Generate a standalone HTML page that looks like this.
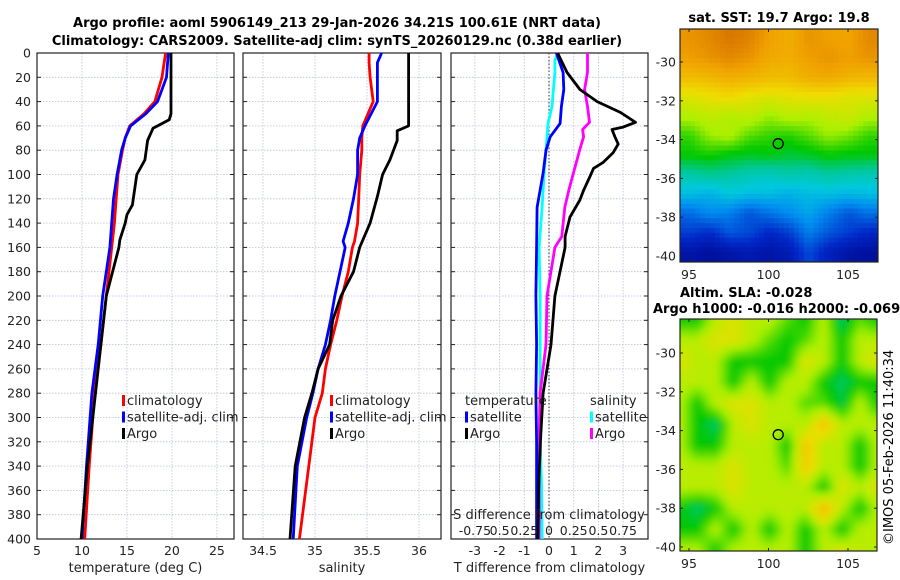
<!DOCTYPE html>
<html><head><meta charset="utf-8"><style>
html,body{margin:0;padding:0;background:#fff;}
svg{display:block;font-family:"DejaVu Sans","Liberation Sans",sans-serif;}
</style></head><body>
<svg id="fig" width="900" height="580" viewBox="0 0 900 580" xmlns="http://www.w3.org/2000/svg">
<defs>
<filter id="blur" x="0" y="0" width="1" height="1"><feGaussianBlur stdDeviation="3.5"/></filter>
<clipPath id="clipMap1"><rect x="680" y="29" width="198" height="233"/></clipPath>
<clipPath id="clipMap2"><rect x="680" y="319" width="197" height="232"/></clipPath>
</defs>
<text x="337" y="27" text-anchor="middle" font-size="13" font-weight="bold">Argo profile: aoml 5906149_213 29-Jan-2026 34.21S 100.61E (NRT data)</text>
<text x="337" y="45" text-anchor="middle" font-size="13" font-weight="bold">Climatology: CARS2009. Satellite-adj clim: synTS_20260129.nc (0.38d earlier)</text>
<g id="g1"></g><g id="g2"></g><g id="g3"></g><g id="m1"></g><g id="m2"></g>
<text transform="translate(893,545) rotate(-90)" font-size="13">©IMOS 05-Feb-2026 11:40:34</text>
</svg>
<script>
// ---- data ----
const depthTicks=[0,20,40,60,80,100,120,140,160,180,200,220,240,260,280,300,320,340,360,380,400];
const tempTicks=[5,10,15,20,25];
const salTicks=[34.5,35,35.5,36];
const tdTicks=[-3,-2,-1,0,1,2,3];
const sdTicks=[-0.75,-0.5,-0.25,0,0.25,0.5,0.75];
const sdTickLabels=["-0.75","0.5","0.25","0","0.25","0.5","0.75"];
const latTicks=[-30,-32,-34,-36,-38,-40];
const lonTicks=[95,100,105];

const tDepthArgo=[0,50,55,62,72,88,100,125,133,140,154,160,200,240,280,300,340,400];
const tArgo=[19.9,19.9,19.7,17.9,17.3,17.0,16.1,15.6,15.0,14.8,14.2,14.1,12.7,12.1,11.5,11.2,10.6,9.9];
const tDepthClim=[0,20,40,50,60,70,80,100,120,140,160,200,240,280,300,340,400];
const tClim=[19.3,18.9,18.1,16.9,15.3,14.8,14.5,14.0,13.8,13.6,13.3,12.7,12.1,11.4,11.2,10.8,10.3];
const tSat=[19.6,19.4,18.4,17.1,15.4,14.8,14.4,13.9,13.5,13.3,13.1,12.3,11.8,11.1,10.9,10.5,10.0];

const sDepthArgo=[0,60,64,72,88,100,118,140,154,160,180,200,220,240,260,280,300,340,400];
const sArgo=[35.90,35.90,35.79,35.79,35.72,35.65,35.60,35.53,35.46,35.43,35.37,35.25,35.17,35.14,35.03,34.97,34.90,34.81,34.76];
const sDepthClim=[0,8,20,40,60,70,80,100,120,140,155,160,180,200,220,240,260,280,300,340,400];
const sClim=[35.52,35.52,35.53,35.56,35.46,35.45,35.45,35.43,35.42,35.41,35.38,35.36,35.32,35.26,35.21,35.15,35.10,35.07,35.00,34.94,34.85];
const sSat=[35.64,35.60,35.60,35.60,35.48,35.43,35.41,35.41,35.37,35.32,35.27,35.29,35.24,35.19,35.15,35.10,35.03,34.98,34.92,34.83,34.79];

const dDepthArgoT=[0,16,30,40,49,57,61,63,69,75,82,90,95,102,113,121,135,151,160,200,240,280,320,360,400];
const dArgoT=[0.35,0.73,1.25,1.95,2.9,3.5,3.0,2.55,2.67,2.8,2.6,2.2,1.8,1.65,1.4,1.25,0.85,0.65,0.65,0.24,0.08,-0.24,-0.35,-0.42,-0.45];
const dDepthSatT=[0,16,30,44,58,69,80,99,127,160,200,240,280,320,360,400];
const dSatT=[0.3,0.57,0.6,0.5,0.45,0.05,-0.12,-0.24,-0.48,-0.5,-0.53,-0.5,-0.53,-0.5,-0.5,-0.5];
const dDepthSatS=[0,6,16,30,44,58,69,80,99,127,160,200,240,280,320,360,400];
const dSatS=[0.092,0.06,0.06,0.045,0.03,-0.01,-0.02,-0.03,-0.05,-0.07,-0.1,-0.09,-0.09,-0.09,-0.088,-0.075,-0.07];
const dDepthArgoS=[0,16,30,44,57,63,69,80,95,113,127,151,160,200,240,280,320,360,400];
const dArgoS=[0.39,0.39,0.36,0.39,0.41,0.34,0.35,0.31,0.26,0.2,0.16,0.13,0.06,-0.02,-0.03,-0.09,-0.1,-0.1,-0.1];

const sstGrid=[
[.90,.92,.95,.93,.88,.85,.90,.88,.87,.92],
[.88,.90,.92,.90,.86,.85,.88,.90,.88,.90],
[.82,.83,.85,.84,.82,.82,.85,.86,.84,.83],
[.72,.74,.76,.73,.72,.73,.74,.74,.72,.72],
[.66,.68,.66,.68,.64,.67,.66,.68,.70,.66],
[.58,.64,.66,.60,.58,.57,.60,.64,.62,.58],
[.55,.56,.54,.53,.54,.52,.53,.55,.54,.54],
[.45,.47,.46,.44,.43,.45,.44,.46,.45,.44],
[.38,.36,.40,.38,.38,.36,.38,.38,.37,.38],
[.25,.30,.28,.22,.26,.30,.34,.28,.22,.26],
[.18,.15,.22,.20,.14,.18,.28,.22,.18,.14],
[.08,.06,.08,.10,.08,.10,.20,.12,.08,.06]];
const slaGrid=[
[.55,.55,.67,.72,.67,.67,.60,.55,.67,.50,.60,.55],
[.67,.67,.72,.72,.67,.60,.55,.60,.67,.55,.67,.67],
[.72,.67,.67,.55,.55,.55,.55,.72,.67,.55,.67,.72],
[.67,.67,.67,.55,.67,.55,.67,.67,.55,.50,.55,.55],
[.67,.55,.67,.72,.72,.67,.67,.60,.60,.52,.67,.55],
[.67,.55,.50,.67,.72,.67,.67,.67,.80,.67,.67,.67],
[.67,.55,.55,.67,.67,.67,.55,.80,.67,.67,.55,.67],
[.67,.67,.67,.72,.67,.67,.60,.78,.67,.67,.55,.67],
[.67,.67,.67,.72,.67,.67,.67,.67,.55,.72,.67,.72],
[.55,.50,.55,.67,.67,.67,.67,.67,.82,.67,.55,.67],
[.55,.55,.67,.55,.67,.55,.67,.55,.67,.55,.67,.67],
[.67,.67,.55,.67,.67,.67,.67,.55,.67,.72,.67,.67]];
const argoLon=100.61, argoLat=-34.21;

// ---- helpers ----
const NS="http://www.w3.org/2000/svg";
function mk(parent,tag,attrs,txt){const e=document.createElementNS(NS,tag);for(const k in attrs)e.setAttribute(k,attrs[k]);if(txt!==undefined)e.textContent=txt;parent.appendChild(e);return e;}
const Y0=53,Y1=539;
const yD=d=>Y0+d*(Y1-Y0)/400;
function lin(d0,d1,r0,r1){return v=>r0+(v-d0)*(r1-r0)/(d1-d0);}
const xT=lin(5,26.9,37,234);
const xS=lin(35,36,315,419);
const xTd=lin(0,1,549,573.7);
const xSd=s=>xTd(s*4);

function panel(g,x0,x1,name,xTicks,xf,labels,xlabel,leftLabels){
  const grid=mk(g,'g',{});
  
  
  depthTicks.forEach(d=>{mk(grid,'line',{x1:x0,x2:x1,y1:yD(d),y2:yD(d),stroke:'#b9c0dc','stroke-width':0.8,'stroke-dasharray':'1.5,1.5'});
    mk(grid,'line',{x1:x0,x2:x0+4,y1:yD(d),y2:yD(d),stroke:'#222'});mk(grid,'line',{x1:x1-4,x2:x1,y1:yD(d),y2:yD(d),stroke:'#222'});});
  xTicks.forEach(v=>{const x=xf(v);mk(grid,'line',{x1:x,x2:x,y1:Y0,y2:Y1,stroke:'#b9c0dc','stroke-width':0.8,'stroke-dasharray':'1.5,1.5'});});
  const fr=mk(g,'rect',{x:x0,y:Y0,width:x1-x0,height:Y1-Y0,fill:'none',stroke:'#222','stroke-width':1.2});
  
  
  const xt=mk(g,'g',{'font-size':12.5,'text-anchor':'middle',fill:'#222'});
  
  
  xTicks.forEach((v,i)=>mk(xt,'text',{x:xf(v),y:555},labels[i]));
  const xl=mk(g,'text',{x:(x0+x1)/2,y:572,'font-size':13,'text-anchor':'middle',fill:'#222'},xlabel);
  
  
  if(leftLabels){const yt=mk(g,'g',{'font-size':12.5,'text-anchor':'end',fill:'#222'});
    
    
    depthTicks.forEach(d=>mk(yt,'text',{x:31,y:yD(d)+4.5},String(d)));}
}
function line(g,xs,ds,xf,color,name){
  const p=xs.map((v,i)=>(i?'L':'M')+xf(v).toFixed(1)+','+yD(ds[i]).toFixed(1)).join('');
  const e=mk(g,'path',{d:p,fill:'none',stroke:color,'stroke-width':2.8,'stroke-linejoin':'round'});
  
  
}
function legend(g,x,y,items,name){
  const lg=mk(g,'g',{'font-size':13,fill:'#222'});
  
  
  items.forEach((it,i)=>{const yy=y+i*16.5;
    if(it[0])mk(lg,'rect',{x:x,y:yy-10,width:3,height:11,fill:it[0]});
    mk(lg,'text',{x:x+(it[0]?5:0),y:yy},it[1]);});
}

// panel 1
const g1=document.getElementById('g1');
panel(g1,37,234,'temperature-panel',tempTicks,xT,tempTicks.map(String),'temperature (deg C)',true);
line(g1,tClim,tDepthClim,xT,'#f00','temperature-climatology-line');
line(g1,tSat,tDepthClim,xT,'#00f','temperature-satellite-line');
line(g1,tArgo,tDepthArgo,xT,'#000','temperature-argo-line');
legend(g1,122,405,[['#f00','climatology'],['#00f','satellite-adj. clim'],['#000','Argo']],'temperature-legend');

// panel 2
const g2=document.getElementById('g2');
panel(g2,243,441,'salinity-panel',salTicks,xS,salTicks.map(String),'salinity',false);
line(g2,sClim,sDepthClim,xS,'#f00','salinity-climatology-line');
line(g2,sSat,sDepthClim,xS,'#00f','salinity-satellite-line');
line(g2,sArgo,sDepthArgo,xS,'#000','salinity-argo-line');
legend(g2,330,405,[['#f00','climatology'],['#00f','satellite-adj. clim'],['#000','Argo']],'salinity-legend');

// panel 3
const g3=document.getElementById('g3');
panel(g3,451,648,'difference-panel',tdTicks,xTd,tdTicks.map(String),'T difference from climatology',false);
const zl=mk(g3,'line',{x1:xTd(0),x2:xTd(0),y1:Y0,y2:Y1,stroke:'#333','stroke-width':1,'stroke-dasharray':'1.5,2'});


line(g3,dSatS,dDepthSatS,xSd,'#0ff','salinity-satellite-diff-line');
line(g3,dArgoS,dDepthArgoS,xSd,'#f0f','salinity-argo-diff-line');
line(g3,dSatT,dDepthSatT,xTd,'#00f','temperature-satellite-diff-line');
line(g3,dArgoT,dDepthArgoT,xTd,'#000','temperature-argo-diff-line');
legend(g3,465,405,[[null,'temperature'],['#00f','satellite'],['#000','Argo']],'temperature-diff-legend');
legend(g3,590,405,[[null,'salinity'],['#0ff','satellite'],['#f0f','Argo']],'salinity-diff-legend');
const st=mk(g3,'text',{x:549,y:519,'font-size':13,'text-anchor':'middle',fill:'#222'},'S difference from climatology');


const sdt=mk(g3,'g',{'font-size':12.5,'text-anchor':'middle',fill:'#222'});


sdTicks.forEach((v,i)=>mk(sdt,'text',{x:xSd(v),y:535},sdTickLabels[i]));

// maps
function cmap(t){
  const st=[[0,0,0,130],[.15,0,40,200],[.3,0,140,240],[.4,0,200,220],[.47,0,200,150],[.55,0,200,0],[.65,170,240,0],[.75,240,220,0],[.88,240,160,0],[1,200,90,0]];
  t=Math.max(0,Math.min(1,t));
  for(let i=1;i<st.length;i++){if(t<=st[i][0]){const a=st[i-1],b=st[i],f=(t-a[0])/(b[0]-a[0]);
    return 'rgb('+[1,2,3].map(k=>Math.round(a[k]+(b[k]-a[k])*f)).join(',')+')';}}
  return 'rgb(200,90,0)';
}
function sample(grid,fy,fx){ // bilinear sample at fractional grid coords
  const R=grid.length,C=grid[0].length;
  fy=Math.max(0,Math.min(R-1,fy));fx=Math.max(0,Math.min(C-1,fx));
  const r0=Math.floor(fy),c0=Math.floor(fx),r1=Math.min(R-1,r0+1),c1=Math.min(C-1,c0+1),a=fy-r0,b=fx-c0;
  return grid[r0][c0]*(1-a)*(1-b)+grid[r0][c1]*(1-a)*b+grid[r1][c0]*a*(1-b)+grid[r1][c1]*a*b;
}
function map(gid,x0,y0,x1,y1,grid,blur,name,latY30,latY40,clip,sub){
  const g=document.getElementById(gid);
  const lonX=lin(95,105,689,848), latY=lin(-30,-40,latY30,latY40);
  const cells=mk(g,'g',{'clip-path':'url(#'+clip+')'});
  
  
  const inner=mk(cells,'g',blur?{filter:'url(#blur)'}:{});
  const R=grid.length*sub,C=grid[0].length*sub,pad=blur?10:0;
  const w=(x1-x0+2*pad)/C,h=(y1-y0+2*pad)/R;
  for(let r=0;r<R;r++)for(let c=0;c<C;c++){
    const v=sample(grid,(r+0.5)/sub-0.5,(c+0.5)/sub-0.5);
    const e=mk(inner,'rect',{x:(x0-pad+c*w).toFixed(1),y:(y0-pad+r*h).toFixed(1),width:(w+0.6).toFixed(1),height:(h+0.6).toFixed(1),fill:cmap(v)});
    
    
  }
  const fr=mk(g,'rect',{x:x0,y:y0,width:x1-x0,height:y1-y0,fill:'none',stroke:'#222','stroke-width':1.2});
  
  
  const c=mk(g,'circle',{cx:lonX(argoLon),cy:latY(argoLat),r:5,fill:'none',stroke:'#000','stroke-width':1.3});
  
  
  const lt=mk(g,'g',{'font-size':12.5,'text-anchor':'end',fill:'#222'});
  
  
  latTicks.forEach(v=>{const y=latY(v);mk(lt,'text',{x:676,y:y+4.5},String(v));
    mk(g,'line',{x1:x0,x2:x0+3,y1:y,y2:y,stroke:'#222'});mk(g,'line',{x1:x1-3,x2:x1,y1:y,y2:y,stroke:'#222'});});
  const lo=mk(g,'g',{'font-size':12.5,'text-anchor':'middle',fill:'#222'});
  
  
  lonTicks.forEach(v=>{const x=lonX(v);mk(lo,'text',{x:x,y:y1+17},String(v));
    mk(g,'line',{x1:x,x2:x,y1:y1-3,y2:y1,stroke:'#222'});mk(g,'line',{x1:x,x2:x,y1:y0,y2:y0+3,stroke:'#222'});});
}
map('m1',680,29,878,262,sstGrid,false,'sst-map',62,256,'clipMap1',4);
map('m2',680,319,877,551,slaGrid,true,'sla-map',353,547,'clipMap2',3);
const svg=document.getElementById('fig');
const t1=mk(svg,'text',{x:779,y:22,'font-size':13,'font-weight':'bold','text-anchor':'middle'},'sat. SST: 19.7 Argo: 19.8');


const t2=mk(svg,'text',{x:680,y:297,'font-size':13,'font-weight':'bold'},'Altim. SLA: -0.028');


const t3=mk(svg,'text',{x:653,y:313,'font-size':13,'font-weight':'bold'},'Argo h1000: -0.016 h2000: -0.069');


</script>
</body></html>
